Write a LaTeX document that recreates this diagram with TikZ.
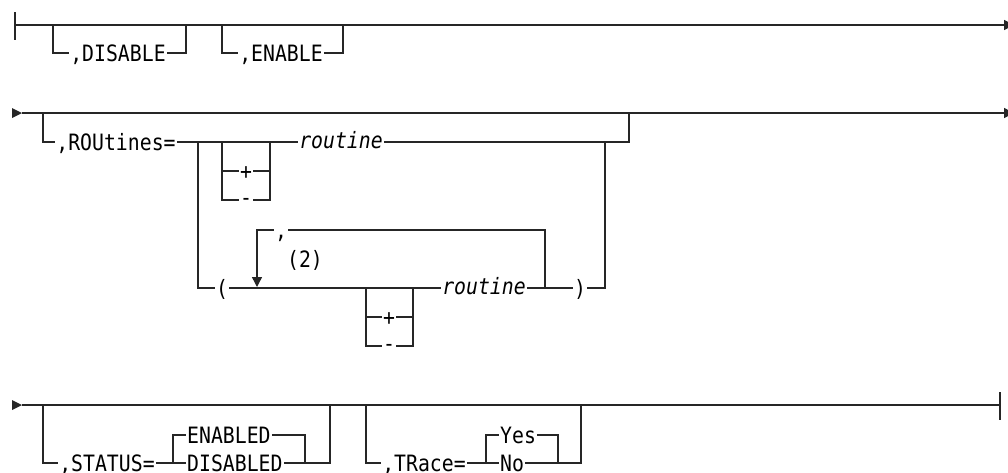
\documentclass[tikz,border=0pt]{standalone}
\usepackage{fontspec}
\newfontfamily\dfont[FakeStretch=0.88]{DejaVu Sans Mono}
\usetikzlibrary{arrows.meta}
\tikzset{
  ln/.style={line width=1.4pt, draw=black!85},
  kw/.style={font=\dfont\fontsize{22.5}{24}\selectfont, inner xsep=1pt, inner ysep=0pt, text height=16.4pt, text depth=0pt},
  mn/.style={kw, text height=11.6pt},
  var/.style={font=\dfont\itshape\fontsize{22.5}{24}\selectfont, inner xsep=1pt, inner ysep=0pt, text height=13pt, text depth=0pt},
  tip/.style={-{Triangle[length=10pt,width=10pt]}},
  headfill/.style={fill=black!85},
}
\begin{document}
\begin{tikzpicture}[x=1pt,y=-1pt]
\useasboundingbox (0,0) rectangle (1008,472);
% ---------- Row 1 ----------
\coordinate (s1) at (15,25);
\coordinate (s1t) at (15,12);
\coordinate (s1b) at (15,40);
\coordinate (e1) at (1014,25);
\draw[ln] (s1t) -- (s1b);
\draw[ln,tip] (s1) -- (e1);
\coordinate (b1l) at (53,25);
\coordinate (b1r) at (186,25);
\node[kw] (dis) at (118,53) {,DISABLE};
\draw[ln] (b1l) |- (dis.west);
\draw[ln] (dis.east) -| (b1r);
\coordinate (b2l) at (222,25);
\coordinate (b2r) at (343,25);
\node[kw] (ena) at (281,53) {,ENABLE};
\draw[ln] (b2l) |- (ena.west);
\draw[ln] (ena.east) -| (b2r);
% ---------- Row 2 ----------
\coordinate (a2) at (12,113);
\coordinate (a2e) at (22,113);
\coordinate (e2) at (1014,113);
\fill[headfill] (a2) -- ++(0,5) -- ++(10,-5) -- ++(-10,-5) -- cycle;
\draw[ln,tip] (a2e) -- (e2);
\coordinate (r0) at (43,113);
\coordinate (r9) at (629,113);
\node[kw] (rou) at (116,142) {,ROUtines=};
\node[var] (rtn1) at (341,142) {routine};
\draw[ln] (r0) |- (rou.west);
\draw[ln] (rou.east) -- (rtn1.west);
\draw[ln] (rtn1.east) -| (r9);
% first +/- group
\coordinate (g1l) at (222,142);
\coordinate (g1r) at (270,142);
\node[kw] (pl1) at (246,171) {+};
\node[mn] (mi1) at (246,200) {-};
\draw[ln] (g1l) |- (mi1.west);
\draw[ln] (mi1.east) -| (g1r);
\draw[ln] (pl1.west) -- (pl1.west -| g1l);
\draw[ln] (pl1.east) -- (pl1.east -| g1r);
% outer alternative
\coordinate (o1) at (198,142);
\coordinate (o2) at (198,288);
\coordinate (o3) at (605,142);
\node[kw] (lp) at (222,288) {(};
\draw[ln] (o1) -- (o2) -- (lp.west);
\node[var] (rtn2) at (484,288) {routine};
\draw[ln] (lp.east) -- (rtn2.west);
\node[kw] (rp) at (580,288) {)};
\draw[ln] (rtn2.east) -- (rp.west);
\draw[ln] (rp.east) -| (o3);
% second +/- group
\coordinate (g2l) at (366,288);
\coordinate (g2r) at (413,288);
\node[kw] (pl2) at (389,317) {+};
\node[mn] (mi2) at (389,346) {-};
\draw[ln] (g2l) |- (mi2.west);
\draw[ln] (mi2.east) -| (g2r);
\draw[ln] (pl2.west) -- (pl2.west -| g2l);
\draw[ln] (pl2.east) -- (pl2.east -| g2r);
% repeat loop
\coordinate (lpr) at (545,288);
\coordinate (lpt) at (257,287);
\node[kw] (cm) at (281,230) {,};
\draw[ln] (lpr) |- (cm.east);
\draw[ln,tip] (cm.west) -| (lpt);
\node[kw] (n2) at (305,259) {(2)};
% ---------- Row 3 ----------
\coordinate (a3) at (12,405);
\coordinate (a3e) at (22,405);
\coordinate (e3) at (1000,405);
\coordinate (e3t) at (1000,392);
\coordinate (e3b) at (1000,420);
\fill[headfill] (a3) -- ++(0,5) -- ++(10,-5) -- ++(-10,-5) -- cycle;
\draw[ln] (a3e) -- (e3);
\draw[ln] (e3t) -- (e3b);
% STATUS
\coordinate (t0) at (43,405);
\coordinate (t9) at (330,405);
\node[kw] (st) at (107,463) {,STATUS=};
\node[kw,anchor=west] (en2) at (186,435) {ENABLED};
\node[kw,anchor=west] (di2) at (186,463) {DISABLED};
\coordinate (c1l) at (173,463);
\coordinate (c1r) at (305,463);
\draw[ln] (t0) |- (st.west);
\draw[ln] (st.east) -- (di2.west);
\draw[ln] (c1l) |- (en2.west);
\draw[ln] (en2.east) -| (c1r);
\draw[ln] (di2.east) -| (t9);
% TRace
\coordinate (u0) at (366,405);
\coordinate (u9) at (581,405);
\node[kw] (tr) at (424,463) {,TRace=};
\node[kw,anchor=west] (ye) at (499,435) {Yes};
\node[kw,anchor=west] (no) at (499,463) {No};
\coordinate (c2l) at (486,463);
\coordinate (c2r) at (558,463);
\draw[ln] (u0) |- (tr.west);
\draw[ln] (tr.east) -- (no.west);
\draw[ln] (c2l) |- (ye.west);
\draw[ln] (ye.east) -| (c2r);
\draw[ln] (no.east) -| (u9);
\end{tikzpicture}
\end{document}
